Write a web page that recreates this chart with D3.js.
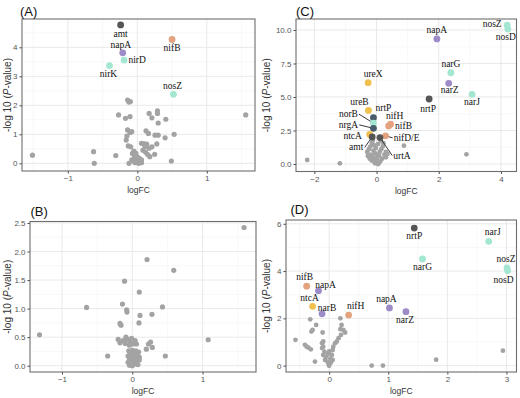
<!DOCTYPE html>
<html>
<head>
<meta charset="utf-8">
<script src="https://cdn.jsdelivr.net/npm/d3@7"></script>
<style>
  body { margin: 0; background: #fff; }
  text { font-family: "Liberation Sans", Arial, sans-serif; }
  .gene { font-family: "Liberation Serif", "Times New Roman", serif; }
</style>
</head>
<body>
<svg id="fig" width="520" height="398"></svg>
<script>
// colours per gene group
const groupColor = new Map();
groupColor.set('transport', '#555555');
groupColor.set('reg', '#4a5c6c');
groupColor.set('nitrate', '#9d8bc7');
groupColor.set('nif', '#e4a27f');
groupColor.set('denit', '#a3e6d1');
groupColor.set('urea', '#f0c04e');

// ---- panel A ----
const greyA = [[-1.51,0.28],[-0.63,0.40],[-0.62,0.0],[-0.31,0.27],[-0.27,1.67],
  [-0.14,2.18],[-0.12,2.11],[-0.10,2.13],[-0.17,1.55],[-0.105,1.61],
  [0.17,1.72],[0.29,1.81],[0.29,1.72],[0.21,1.57],[0.41,1.52],[0.30,1.39],
  [-0.14,1.15],[-0.105,1.06],[-0.08,1.09],[0.125,1.12],[0.16,1.03],[0.255,0.97],[0.30,0.97],[0.40,0.88],[0.53,1.0],
  [-0.15,0.94],[-0.16,0.80],[-0.13,0.60],[-0.095,0.57],
  [0.06,0.69],[0.10,0.67],[0.135,0.66],[0.11,0.57],[0.17,0.52],[0.21,0.57],[0.28,0.67],
  [-0.05,0.42],[-0.07,0.34],[-0.02,0.34],[0.08,0.45],[0.12,0.38],[0.15,0.30],
  [-0.04,0.28],[0.0,0.22],[0.03,0.17],[-0.01,0.17],[-0.05,0.15],[-0.08,0.12],[0.02,0.10],[0.06,0.12],
  [0.04,0.05],[-0.01,0.05],[-0.05,0.06],[-0.12,0.0],[0.06,0.02],[0.02,0.0],[-0.03,0.02],
  [0.18,0.23],[0.25,0.31],[0.49,0.08],[1.56,1.67]];
const genesA = [
  {gene:'amt', grp:'transport', x:-0.24, y:4.77},
  {gene:'nifB', grp:'nif', x:0.50, y:4.27},
  {gene:'napA', grp:'nitrate', x:-0.21, y:3.81},
  {gene:'nirD', grp:'denit', x:-0.19, y:3.56},
  {gene:'nirK', grp:'denit', x:-0.40, y:3.37},
  {gene:'nosZ', grp:'denit', x:0.52, y:2.38}];

// ---- panel B ----
const greyB = [[1.59,2.42],[0.21,1.86],[0.59,1.67],[-0.11,1.48],[0.10,1.29],[-0.14,1.08],[-0.65,1.02],
  [-0.08,0.98],[-0.075,0.94],[0.43,1.03],[0.11,0.88],[0.28,0.90],[-0.175,0.74],[-0.16,0.71],[0.095,0.75],
  [-1.32,0.54],[1.08,0.455],[-0.35,0.17],[0.47,0.17],
  [-0.20,0.46],[-0.175,0.40],[-0.13,0.44],[-0.09,0.50],[-0.07,0.46],[-0.03,0.42],[-0.04,0.36],[-0.10,0.39],
  [0.04,0.44],[0.06,0.38],[0.015,0.38],[-0.01,0.48],[0.23,0.38],[0.26,0.415],[0.285,0.32],[0.20,0.29],
  [-0.05,0.26],[0.0,0.27],[0.05,0.26],[0.09,0.24],[-0.03,0.22],[0.02,0.21],[0.07,0.19],[-0.06,0.17],
  [0.0,0.16],[0.04,0.14],[0.10,0.15],[-0.04,0.11],[0.01,0.10],[0.06,0.08],[-0.06,0.06],[-0.01,0.05],
  [0.04,0.03],[0.0,0.0],[-0.04,0.01],[0.08,0.02],[0.10,0.10]];

// ---- panel C ----
const greyC = [[-2.23,0.30],[-1.18,0.05],[0.88,1.37],[2.89,0.72],
  [-0.30,0.90],[-0.25,1.10],[-0.20,1.30],[-0.15,1.55],[-0.12,1.75],[-0.08,1.40],[-0.10,1.00],[-0.18,0.70],
  [-0.28,0.60],[-0.12,0.50],[-0.05,0.80],[-0.03,0.30],[0.0,0.10],[-0.05,0.05],[0.05,0.0],[0.02,0.45],
  [0.08,0.60],[0.10,0.90],[0.15,1.10],[0.20,1.30],[0.22,1.55],[0.30,0.90],[0.25,0.70],[0.18,0.40],
  [0.12,0.20],[0.07,0.05],[-0.15,0.25],[-0.22,0.40],[0.30,0.50],[0.35,0.75],[0.0,0.70],[-0.02,1.20],
  [0.05,1.50],[0.14,1.75]];
const genesC = [
  {gene:'napA', grp:'nitrate', x:1.94, y:9.33},
  {gene:'nosZ', grp:'denit', x:4.20, y:10.37},
  {gene:'nosD', grp:'denit', x:4.22, y:10.07},
  {gene:'narG', grp:'denit', x:2.39, y:6.81},
  {gene:'narZ', grp:'nitrate', x:2.32, y:6.02},
  {gene:'narJ', grp:'denit', x:3.07, y:5.20},
  {gene:'nrtP', grp:'transport', x:1.69, y:4.85},
  {gene:'ureX', grp:'urea', x:-0.27, y:6.07},
  {gene:'ureB', grp:'urea', x:-0.26, y:4.00},
  {gene:'nrtP', grp:'reg', x:-0.10, y:3.45},
  {gene:'norB', grp:'denit', x:-0.10, y:3.05},
  {gene:'nifH', grp:'nif', x:0.39, y:2.84},
  {gene:'nifB', grp:'nif', x:0.45, y:2.97},
  {gene:'nrgA', grp:'reg', x:-0.10, y:2.66},
  {gene:'ntcA', grp:'urea', x:-0.22, y:2.20},
  {gene:'nifD/E', grp:'nif', x:0.29, y:2.10},
  {gene:'amt', grp:'transport', x:-0.14, y:2.02},
  {gene:'urtA', grp:'transport', x:0.11, y:1.97}];

// ---- panel D ----
const greyD = [[-0.57,1.09],[-0.41,0.88],[-0.38,0.80],[-0.35,0.76],[-0.31,0.69],[-0.32,1.96],[-0.22,1.72],
  [-0.28,1.51],[-0.30,1.44],[-0.11,1.40],[-0.24,0.17],
  [0.19,2.00],[0.21,1.72],[0.19,1.54],[0.24,1.51],[0.20,1.30],[0.27,1.40],[0.16,1.16],[0.13,1.02],
  [0.10,0.95],[0.07,0.80],[0.06,0.66],[0.045,0.45],
  [-0.10,1.02],[-0.12,0.95],[-0.10,0.80],[-0.12,0.74],[-0.08,0.59],[-0.10,0.45],[-0.05,0.38],[-0.07,0.24],
  [-0.03,0.17],[-0.01,0.07],[0.0,-0.01],[0.03,0.13],[0.06,0.24],[0.02,0.30],[-0.02,0.50],[0.0,0.60],
  [0.72,0.0],[0.91,0.0],[1.81,0.25],[2.94,0.63]];
const genesD = [
  {gene:'nrtP', grp:'transport', x:1.44, y:5.82},
  {gene:'narJ', grp:'denit', x:2.70, y:5.26},
  {gene:'narG', grp:'denit', x:1.58, y:4.51},
  {gene:'nosZ', grp:'denit', x:3.01, y:4.13},
  {gene:'nosD', grp:'denit', x:3.02, y:4.02},
  {gene:'nifB', grp:'nif', x:-0.38, y:3.36},
  {gene:'napA', grp:'nitrate', x:-0.18, y:3.17},
  {gene:'ntcA', grp:'urea', x:-0.28, y:2.51},
  {gene:'narB', grp:'nitrate', x:-0.12, y:2.19},
  {gene:'nifH', grp:'nif', x:0.33, y:2.14},
  {gene:'napA', grp:'nitrate', x:1.02, y:2.44},
  {gene:'narZ', grp:'nitrate', x:1.30, y:2.28}];

// label placement (pixel offsets of text centre from point), same order as genes
const labOffA = [[0,9],[0,9],[-2,-8],[13,0],[-1,8],[-1,-8]];
const labOffC = [[0,-9],[-15,-1],[-2,8],[0,-9],[1,7],[0,8],[-1,10],
  [5,-9],[-9,-8],[10,-10],[-25,-9],[6,-10],[13,2],[-25,-3.5],[-17,1.5],[21,2],[-16,10.5],[22,18]];
const leaderC = [10, 13, 15, 16, 17];
const labOffD = [[0,8],[4,-9],[0,8],[-1,-9],[-4,9],[-2,-9],[7,-6],[-3,-8],[5,-6],[7,-9],[-3,-9],[-1,8]];

const svg = d3.select('#fig');

const panels = [
  {tag:'(A)', box:[22,255,19,171], xDom:[-1.66,1.694], yDom:[-0.265,4.976],
   xTicks:[-1,0,1], xMinor:[-1.5,-0.5,0.5,1.5], yTicks:[0,1,2,3,4], yMinor:[0.5,1.5,2.5,3.5,4.5],
   yFmt:d3.format('d'), grey:greyA, genes:genesA, off:labOffA, leader:[], tagPos:[20,11], titleX:7, rGrey:2.6},
  {tag:'(B)', box:[30,256,221.5,372], xDom:[-1.455,1.76], yDom:[-0.11,2.525],
   xTicks:[-1,0,1], xMinor:[-0.5,0.5,1.5], yTicks:[0,0.5,1,1.5,2,2.5], yMinor:[0.25,0.75,1.25,1.75,2.25],
   yFmt:d3.format('.1f'), grey:greyB, genes:[], off:[], leader:[], tagPos:[30.5,211], titleX:7, rGrey:2.6},
  {tag:'(C)', box:[296,516.5,19,171.5], xDom:[-2.59,4.50], yDom:[-0.56,10.82],
   xTicks:[-2,0,2,4], xMinor:[-1,1,3], yTicks:[0,2.5,5,7.5,10], yMinor:[1.25,3.75,6.25,8.75],
   yFmt:d3.format('.1f'), grey:greyC, genes:genesC, off:labOffC, leader:leaderC, tagPos:[296,11], titleX:265.5, rGrey:2.4},
  {tag:'(D)', box:[286,516.5,220,372], xDom:[-0.73,3.17], yDom:[-0.27,6.16],
   xTicks:[0,1,2,3], xMinor:[-0.5,0.5,1.5,2.5], yTicks:[0,2,4,6], yMinor:[1,3,5],
   yFmt:d3.format('d'), grey:greyD, genes:genesD, off:labOffD, leader:[], tagPos:[290.5,209.5], titleX:265.5, rGrey:2.4}
];

function drawPanel(p) {
  const [l, r, t, b] = p.box;
  const x = d3.scaleLinear().domain(p.xDom).range([l, r]);
  const y = d3.scaleLinear().domain(p.yDom).range([b, t]);
  const g = svg.append('g');

  // grid: minor then major
  g.append('g').selectAll('line').data(p.xMinor).join('line')
    .attr('x1', d => x(d)).attr('x2', d => x(d)).attr('y1', t).attr('y2', b)
    .attr('stroke', '#f3f3f3').attr('stroke-width', 0.6);
  g.append('g').selectAll('line').data(p.yMinor).join('line')
    .attr('y1', d => y(d)).attr('y2', d => y(d)).attr('x1', l).attr('x2', r)
    .attr('stroke', '#f3f3f3').attr('stroke-width', 0.6);
  g.append('g').selectAll('line').data(p.xTicks).join('line')
    .attr('x1', d => x(d)).attr('x2', d => x(d)).attr('y1', t).attr('y2', b)
    .attr('stroke', '#e6e6e6').attr('stroke-width', 0.9);
  g.append('g').selectAll('line').data(p.yTicks).join('line')
    .attr('y1', d => y(d)).attr('y2', d => y(d)).attr('x1', l).attr('x2', r)
    .attr('stroke', '#e6e6e6').attr('stroke-width', 0.9);

  // axes
  const xa = g.append('g').attr('transform', `translate(0,${b})`)
    .call(d3.axisBottom(x).tickValues(p.xTicks).tickSize(2.5).tickPadding(2).tickFormat(d3.format('d')));
  const ya = g.append('g').attr('transform', `translate(${l},0)`)
    .call(d3.axisLeft(y).tickValues(p.yTicks).tickSize(2.5).tickPadding(2).tickFormat(p.yFmt));
  [xa, ya].forEach(a => {
    a.select('.domain').remove();
    a.selectAll('line').attr('stroke', '#444');
    a.selectAll('text').attr('fill', '#555').style('font-size', '8px')
      .style('font-family', '"Liberation Sans", Arial, sans-serif');
  });

  // points
  g.append('g').selectAll('circle').data(p.grey).join('circle')
    .attr('cx', d => x(d[0])).attr('cy', d => y(d[1])).attr('r', p.rGrey)
    .attr('fill', '#a3a3a3');

  // leader lines go under the coloured points
  const lines = g.append('g');

  g.append('g').selectAll('circle').data(p.genes).join('circle')
    .attr('cx', d => x(d.x)).attr('cy', d => y(d.y)).attr('r', 3.4)
    .attr('fill', d => groupColor.get(d.grp));

  const labels = g.append('g').selectAll('text').data(p.genes).join('text')
    .attr('class', 'gene')
    .attr('x', (d, i) => x(d.x) + p.off[i][0])
    .attr('y', (d, i) => y(d.y) + p.off[i][1])
    .attr('text-anchor', 'middle').attr('dominant-baseline', 'central')
    .style('font-size', '9.5px').attr('fill', '#111')
    .text(d => d.gene);

  labels.each(function(d, i) {
    if (!p.leader.includes(i)) return;
    const bb = this.getBBox();
    const px = x(d.x), py = y(d.y);
    const cx = bb.x + bb.width / 2, cy = bb.y + bb.height / 2;
    const sx = cx < px ? bb.x + bb.width + 1 : bb.x - 1;
    lines.append('line').attr('x1', sx).attr('y1', cy).attr('x2', px).attr('y2', py)
      .attr('stroke', '#222').attr('stroke-width', 0.9);
  });

  // border
  g.append('rect').attr('x', l).attr('y', t).attr('width', r - l).attr('height', b - t)
    .attr('fill', 'none').attr('stroke', '#6e6e6e').attr('stroke-width', 1.1);

  // titles
  g.append('text').attr('x', (l + r) / 2).attr('y', b + 19).attr('text-anchor', 'middle')
    .attr('dominant-baseline', 'central').style('font-size', '8.5px').attr('fill', '#333').text('logFC');
  const yt = g.append('text')
    .attr('transform', `translate(${p.titleX},${(t + b) / 2}) rotate(-90)`)
    .attr('text-anchor', 'middle').attr('dominant-baseline', 'central')
    .style('font-size', '10px').attr('fill', '#333');
  yt.append('tspan').text('-log 10 (');
  yt.append('tspan').attr('font-style', 'italic').text('P');
  yt.append('tspan').text('-value)');
  g.append('text').attr('x', p.tagPos[0]).attr('y', p.tagPos[1]).attr('dominant-baseline', 'central')
    .style('font-size', '13px').attr('fill', '#111').text(p.tag);
}

panels.forEach(drawPanel);
</script>
</body>
</html>
